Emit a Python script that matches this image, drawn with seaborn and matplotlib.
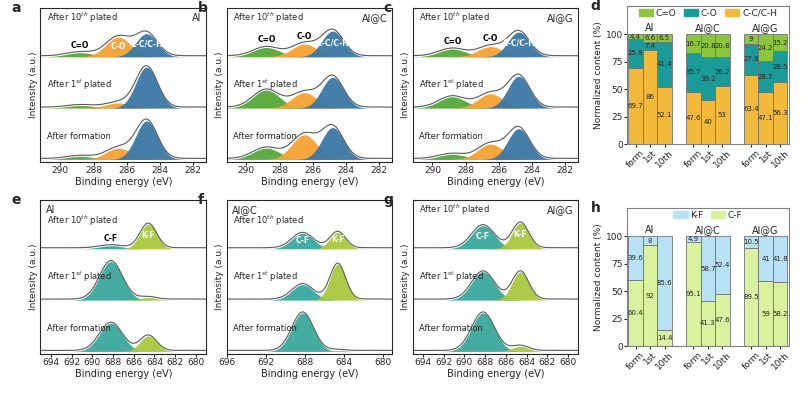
import numpy as np
import matplotlib
matplotlib.use("Agg")
import matplotlib.pyplot as plt
import seaborn as sns
import pandas as pd

sns.set_style("ticks")
plt.rcParams["font.family"] = "DejaVu Sans"
plt.rcParams["font.size"] = 7

# ---------- Data ----------
spectra_labels = ["After formation", "After 1$^{st}$ plated", "After 10$^{th}$ plated"]
c1s_centers = [288.8, 286.5, 284.8]  # C=O, C-O, C-C/C-H
c1s_names = ["C=O", "C-O", "C-C/C-H"]
c1s_amp = {
    "Al":   [[0.06, 0.22, 0.75], [0.05, 0.10, 0.80], [0.08, 0.38, 0.45]],
    "Al@C": [[0.22, 0.48, 0.62], [0.35, 0.30, 0.60], [0.18, 0.25, 0.50]],
    "Al@G": [[0.10, 0.30, 0.60], [0.22, 0.28, 0.62], [0.15, 0.20, 0.48]],
}
f1s_centers = [688.2, 684.6]  # C-F, K-F
f1s_names = ["C-F", "K-F"]
f1s_amp = {
    "Al":   [[0.55, 0.30], [0.75, 0.05], [0.06, 0.48]],
    "Al@C": [[0.75, 0.02], [0.30, 0.70], [0.30, 0.32]],
    "Al@G": [[0.75, 0.10], [0.55, 0.55], [0.45, 0.50]],
}
f1s_ranges = {"Al": (695, 679), "Al@C": (696, 679), "Al@G": (695, 679)}

bar_samples = ["Al", "Al@C", "Al@G"]
bar_states = ["form", "1st", "10th"]
cc = [69.7, 86, 52.1, 47.6, 40, 53, 63.4, 47.1, 56.3]
co = [25.9, 7.4, 41.4, 35.7, 39.2, 26.2, 27.6, 28.7, 28.5]
cdo = [4.4, 6.6, 6.5, 16.7, 20.8, 20.8, 9, 24.2, 15.2]
cf = [60.4, 92, 14.4, 95.1, 41.3, 47.6, 89.5, 59, 58.2]
kf = [39.6, 8, 85.6, 4.9, 58.7, 52.4, 10.5, 41, 41.8]

c1s_colors = ["#55a83a", "#f5a233", "#3b78a5"]
f1s_colors = ["#3aa89c", "#a9c83e"]

fig = plt.figure(figsize=(8.09, 4.0), dpi=100)

def gauss(x, c, a, w):
    return a * np.exp(-((x - c) ** 2) / (2 * w ** 2))

def spectrum_panel(rect, letter, name, centers, amps, colors, names, xr, ticks, widths, name_left):
    ax = fig.add_axes(rect)
    x = np.linspace(xr[1], xr[0], 400)
    for i, amp in enumerate(amps):
        off = i * 1.0
        total = np.zeros_like(x)
        for c, a, col, w in zip(centers, amp, colors, widths):
            y = gauss(x, c, a, w)
            total += y
            ax.fill_between(x, off, off + y, color=col, alpha=0.95, lw=0)
        sns.lineplot(x=x, y=off + total + 0.02, ax=ax, color="0.35", lw=0.8)
        ypos = off + 0.45 if i < 2 else (off + 0.55 if name_left else off + 0.75)
        ax.text(xr[0] - 0.04 * abs(xr[0] - xr[1]), ypos, spectra_labels[i], fontsize=6, va="center")
    top = amps[2]
    for c, a, n in zip(centers, top, names):
        if a > 0.25:
            ax.text(c, 2 + a * 0.55, n, fontsize=5.5, ha="center", va="center",
                    color="white", fontweight="bold")
        else:
            ax.text(c, 2 + a + 0.06, n, fontsize=5.5, ha="center", va="bottom",
                    color="black", fontweight="bold")
    ax.set_xlim(*xr)
    ax.set_ylim(-0.05, 2.95)
    ax.set_xticks(ticks)
    ax.set_yticks([])
    ax.set_xlabel("Binding energy (eV)", fontsize=7, labelpad=1)
    ax.set_ylabel("Intensity (a.u.)", fontsize=6.5, labelpad=2)
    ax.tick_params(labelsize=6.5, length=2, pad=1)
    if name_left:
        ax.text(0.03, 0.97, name, fontsize=7, ha="left", va="top", transform=ax.transAxes)
    else:
        ax.text(0.97, 0.97, name, fontsize=7, ha="right", va="top", transform=ax.transAxes)
    fig.text(rect[0] - 0.036, rect[1] + rect[3] - 0.01, letter, fontsize=10, fontweight="bold")
    return ax

lefts = [0.05, 0.28, 0.51]
w, h = 0.205, 0.385
for j, (s, L) in enumerate(zip(bar_samples, "abc")):
    spectrum_panel([lefts[j], 0.595, w, h], L, s, c1s_centers, c1s_amp[s], c1s_colors, c1s_names,
                   (291.2, 281.2), [290, 288, 286, 284, 282], [0.8, 0.75, 0.65], False)
for j, (s, L) in enumerate(zip(bar_samples, "efg")):
    xr = f1s_ranges[s]
    ticks = list(range(694, 679, -2)) if s != "Al@C" else list(range(696, 679, -4))
    spectrum_panel([lefts[j], 0.115, w, h], L, s, f1s_centers, f1s_amp[s], f1s_colors, f1s_names,
                   xr, ticks, [1.1, 0.8], s != "Al@G")

pos = [0, 1, 2, 4, 5, 6, 8, 9, 10]
def bar_panel(rect, letter, layers, colors, names, legend_order):
    ax = fig.add_axes(rect)
    bottom = np.zeros(9)
    for vals, col in zip(layers, colors):
        vals = np.array(vals)
        ax.bar(pos, vals, bottom=bottom, width=1.0, color=col, edgecolor="0.45", lw=0.6)
        for p, v, b in zip(pos, vals, bottom):
            ax.text(p, b + v / 2, f"{v:g}", ha="center", va="center", fontsize=5)
        bottom += vals
    for k, s in enumerate(bar_samples):
        ax.text(pos[3 * k + 1], 101, s, ha="center", va="bottom", fontsize=7)
    handles = [plt.Rectangle((0, 0), 1, 1, color=colors[i]) for i in legend_order]
    ax.legend(handles, [names[i] for i in legend_order], loc="upper center", ncol=len(names),
              frameon=False, fontsize=6.5, handlelength=1.6, handletextpad=0.3, columnspacing=0.8,
              bbox_to_anchor=(0.5, 1.04))
    ax.set_xlim(-0.6, 10.6)
    ax.set_ylim(0, 126)
    ax.set_yticks([0, 25, 50, 75, 100])
    ax.set_xticks(pos)
    ax.set_xticklabels(bar_states * 3, rotation=45, fontsize=6)
    ax.set_ylabel("Normalized content (%)", fontsize=6.5, labelpad=2)
    ax.tick_params(labelsize=6.5, length=2, pad=1)
    for sp in ax.spines.values():
        sp.set_color("0.5")
    fig.text(rect[0] - 0.045, rect[1] + rect[3] - 0.01, letter, fontsize=10, fontweight="bold")

bar_panel([0.775, 0.64, 0.2, 0.345], "d", [cc, co, cdo], ["#f2b93b", "#1b9a9a", "#8cc63f"],
          ["C-C/C-H", "C-O", "C=O"], [2, 1, 0])
bar_panel([0.775, 0.135, 0.2, 0.345], "h", [cf, kf], ["#d9f2a0", "#b9e1f6"],
          ["C-F", "K-F"], [1, 0])

fig.savefig("out.png", dpi=100)
